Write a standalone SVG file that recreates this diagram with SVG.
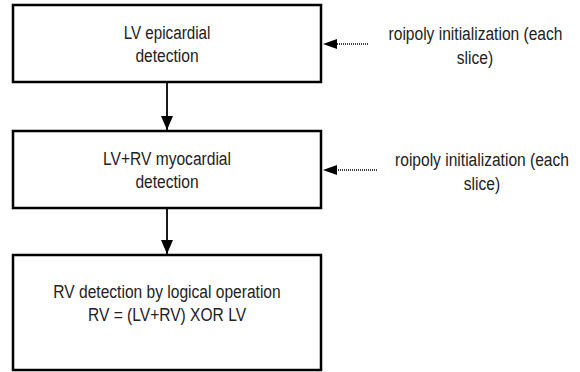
<svg xmlns="http://www.w3.org/2000/svg" width="580" height="372" viewBox="0 0 580 372">
<style>
.box{fill:#fff;stroke:#000;stroke-width:2.5}
.t{font-family:"Liberation Sans",Arial,sans-serif;font-size:19px;fill:#222;text-anchor:middle}
.c{stroke:#000;stroke-width:1.8;fill:none}
.d{stroke:#000;stroke-width:1.3;stroke-dasharray:1 1;fill:none}
</style>
<defs>
<marker id="ah" markerWidth="14" markerHeight="12" refX="14" refY="6" orient="auto" markerUnits="userSpaceOnUse">
<path d="M0,0 L14,6 L0,12 Z" fill="#000"/>
</marker>
</defs>
<rect width="580" height="372" fill="#fff"/>
<g id="connectors">
<line class="c" x1="167" y1="82" x2="167" y2="130" marker-end="url(#ah)"/>
<line class="c" x1="167" y1="208" x2="167" y2="254" marker-end="url(#ah)"/>
<line class="d" x1="368" y1="44" x2="336" y2="44"/>
<path d="M337,39 L323,44 L337,49 Z" fill="#000"/>
<line class="d" x1="377" y1="170" x2="336" y2="170"/>
<path d="M337,165 L323,170 L337,175 Z" fill="#000"/>
</g>
<g id="n1">
<rect class="box" x="13" y="5" width="308" height="77"/>
<text class="t" transform="translate(167,39) scale(0.8,1)">LV epicardial</text>
<text class="t" transform="translate(167,62) scale(0.82,1)">detection</text>
</g>
<g id="n2">
<rect class="box" x="13" y="131" width="308" height="77"/>
<text class="t" transform="translate(167,165) scale(0.82,1)">LV+RV myocardial</text>
<text class="t" transform="translate(167,188) scale(0.82,1)">detection</text>
</g>
<g id="n3">
<rect class="box" x="13" y="255" width="308" height="115"/>
<text class="t" transform="translate(167,298) scale(0.82,1)">RV detection by logical operation</text>
<text class="t" transform="translate(167,321) scale(0.82,1)">RV = (LV+RV) XOR LV</text>
</g>
<g id="s1">
<text class="t" transform="translate(475.5,40) scale(0.82,1)">roipoly initialization (each</text>
<text class="t" transform="translate(475,64) scale(0.82,1)">slice)</text>
</g>
<g id="s2">
<text class="t" transform="translate(482,166) scale(0.82,1)">roipoly initialization (each</text>
<text class="t" transform="translate(482,190) scale(0.82,1)">slice)</text>
</g>
</svg>
